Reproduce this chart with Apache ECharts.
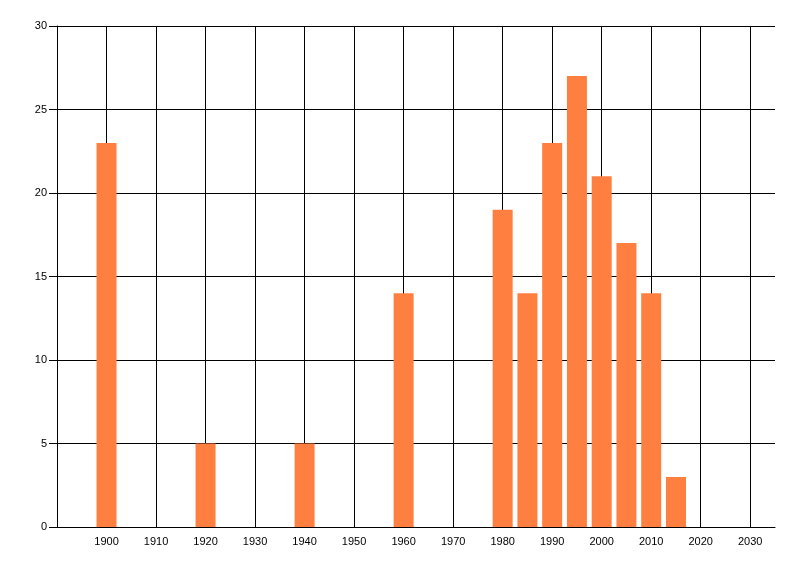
<!DOCTYPE html>
<html>
<head>
<meta charset="utf-8">
<script src="https://cdn.jsdelivr.net/npm/echarts@6/dist/echarts.min.js"></script>
<style>html,body{margin:0;padding:0;background:#fff}#c{width:800px;height:576px}</style>
</head>
<body>
<div id="c"></div>
<script>
var years = [1900, 1920, 1940, 1960, 1980, 1985, 1990, 1995, 2000, 2005, 2010, 2015];
var counts = [23, 5, 5, 14, 19, 14, 23, 27, 21, 17, 14, 3];

var data = years.map(function (y, i) { return [y, counts[i]]; });
var chart = echarts.init(document.getElementById('c'), null, {renderer: 'canvas'});
var font = '"Liberation Sans", Arial, sans-serif';
chart.setOption({
  animation: false,
  backgroundColor: '#fff',
  grid: {left: 57, right: 25, top: 26, bottom: 49, containLabel: false},
  xAxis: {
    type: 'value', min: 1890, max: 2035, interval: 10,
    axisLine: {show: true, lineStyle: {color: '#000', width: 1}},
    axisTick: {show: false},
    axisLabel: {color: '#000', fontFamily: font, fontSize: 11, margin: 9,
      showMinLabel: false, showMaxLabel: false,
      formatter: function (v) { return (v >= 1900 && v <= 2030) ? String(v) : ''; }},
    splitLine: {show: true, showMinLine: false, showMaxLine: false, lineStyle: {color: '#000', width: 1}}
  },
  yAxis: {
    type: 'value', min: 0, max: 30, interval: 5,
    axisLine: {show: true, lineStyle: {color: '#000', width: 1}},
    axisTick: {show: true, length: 8, lineStyle: {color: '#000'}},
    axisLabel: {color: '#000', fontFamily: font, fontSize: 11, margin: 10},
    splitLine: {show: true, lineStyle: {color: '#000', width: 1}}
  },
  series: [{
    type: 'bar', data: data, barWidth: 20,
    itemStyle: {color: '#ff7f40'}
  }]
});
</script>
</body>
</html>
